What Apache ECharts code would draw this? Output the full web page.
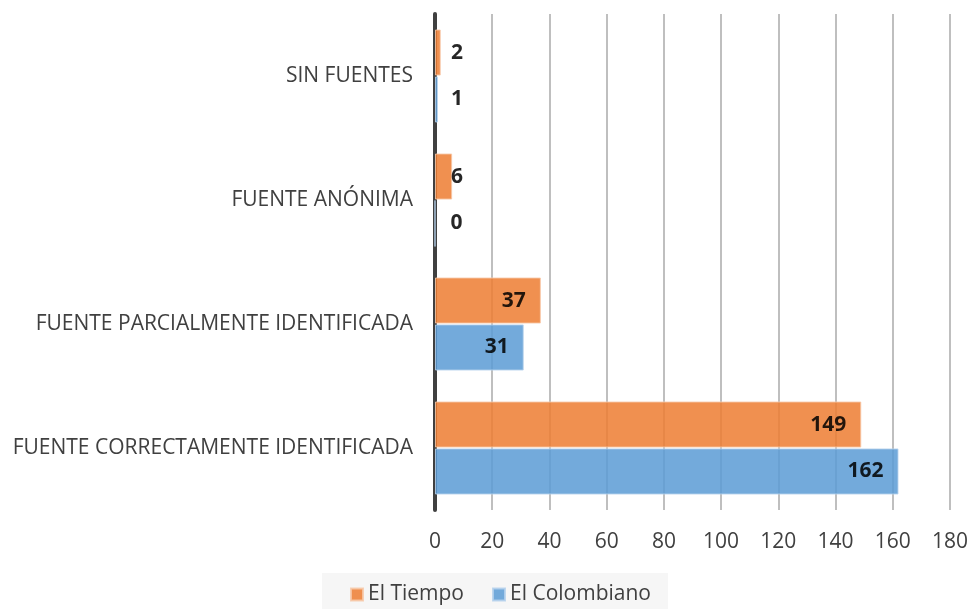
<!DOCTYPE html>
<html>
<head>
<meta charset="utf-8">
<script src="https://cdn.jsdelivr.net/npm/echarts@6/dist/echarts.min.js"></script>
<style>
  html, body { margin: 0; padding: 0; background: #fff; }
  #chart { width: 971px; height: 609px; }
</style>
</head>
<body>
<div id="chart"></div>
<script>
// categorías de abajo hacia arriba
const categories = [
  "FUENTE CORRECTAMENTE IDENTIFICADA",
  "FUENTE PARCIALMENTE IDENTIFICADA",
  "FUENTE ANÓNIMA",
  "SIN FUENTES"
];
const elTiempo = [149, 37, 6, 2];
const elColombiano = [162, 31, 0, 1];
const xTicks = [0, 20, 40, 60, 80, 100, 120, 140, 160, 180];

const FONT = "Open Sans";

// etiquetas: dentro al final, o fuera si la barra es muy corta
const toData = (vals) =>
  vals.map((v) =>
    v < 10
      ? { value: v, label: { position: [16, "50%"], align: "left", verticalAlign: "middle" } }
      : { value: v }
  );

const chart = echarts.init(document.getElementById("chart"));

const barLabel = {
  show: true,
  position: "insideRight",
  distance: 15,
  color: "#000",
  fontFamily: FONT,
  fontWeight: "bold",
  fontSize: 21
};

chart.setOption({
  animation: false,
  grid: { left: 435, right: 19, top: 14, bottom: 99 },
  legend: {
    data: ["El Tiempo", "El Colombiano"],
    left: 322,
    top: 573,
    padding: [11, 17, 6, 28],
    backgroundColor: "#f6f6f6",
    itemWidth: 12,
    itemHeight: 12,
    itemGap: 28,
    icon: "rect",
    textStyle: { fontFamily: FONT, fontSize: 21, color: "#404040" }
  },
  xAxis: {
    type: "value",
    min: 0,
    max: 180,
    interval: 20,
    axisLine: { show: false },
    axisTick: { show: false },
    splitLine: { lineStyle: { color: "#bfbfbf", width: 2 } },
    axisLabel: {
      fontFamily: FONT,
      fontSize: 21,
      color: "#404040",
      margin: 22,
      formatter: (v) => (xTicks.includes(v) ? String(v) : "")
    }
  },
  yAxis: {
    type: "category",
    data: categories,
    axisLine: { lineStyle: { color: "#404040", width: 4 } },
    axisTick: { show: false },
    axisLabel: {
      fontFamily: FONT,
      fontSize: 21,
      color: "#404040",
      margin: 22
    }
  },
  series: [
    {
      name: "El Tiempo",
      type: "bar",
      data: toData(elTiempo),
      barGap: "2%",
      barCategoryGap: "25%",
      itemStyle: { color: "#ED7D31", opacity: 0.85, borderColor: "#f7c9a9", borderWidth: 1 },
      label: barLabel
    },
    {
      name: "El Colombiano",
      type: "bar",
      data: toData(elColombiano),
      barGap: "2%",
      barCategoryGap: "25%",
      itemStyle: { color: "#5B9BD5", opacity: 0.85, borderColor: "#b5d1ec", borderWidth: 1 },
      label: barLabel
    }
  ]
});
</script>
</body>
</html>
